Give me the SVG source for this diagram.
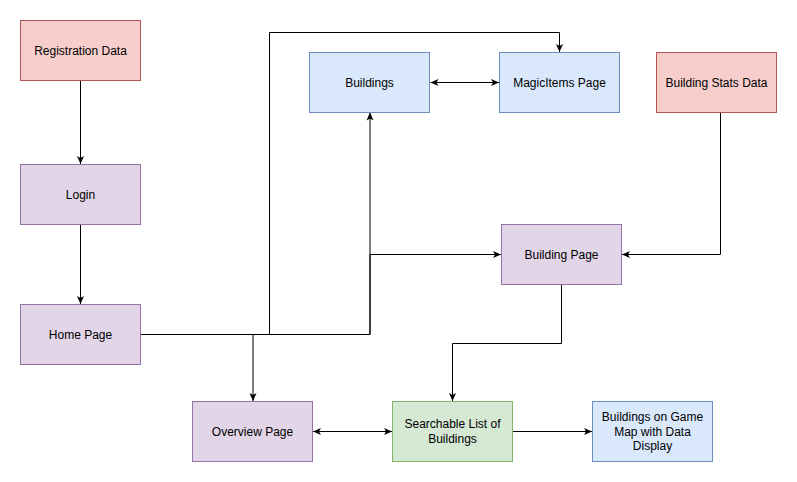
<svg xmlns="http://www.w3.org/2000/svg" width="797" height="482" viewBox="0 0 797 482">
  <style>
    .box { stroke-width: 1; }
    .red { fill: #f8cecc; stroke: #b85450; }
    .purple { fill: #e1d5e7; stroke: #9673a6; }
    .blue { fill: #dae8fc; stroke: #6c8ebf; }
    .green { fill: #d5e8d4; stroke: #82b366; }
    .label { font-family: "Liberation Sans", Arial, Helvetica, sans-serif; font-size: 12px; fill: #000000; text-anchor: middle; }
    .edge { fill: none; stroke: #000000; stroke-width: 1; }
    .end { marker-end: url(#arrow); }
    .both { marker-start: url(#arrowStart); marker-end: url(#arrow); }
  </style>
  <defs>
    <marker id="arrow" viewBox="0 0 10 10" refX="10" refY="5" markerWidth="8" markerHeight="8" markerUnits="userSpaceOnUse" orient="auto">
      <path d="M0,0.6 L10,5 L0,9.4 L2.6,5 Z" fill="#000000"/>
    </marker>
    <marker id="arrowStart" viewBox="0 0 10 10" refX="0" refY="5" markerWidth="8" markerHeight="8" markerUnits="userSpaceOnUse" orient="auto">
      <path d="M10,0.6 L0,5 L10,9.4 L7.4,5 Z" fill="#000000"/>
    </marker>
  </defs>

  <rect width="797" height="482" fill="#ffffff"/>

  <g id="connectors">
    <path class="edge end" d="M80.5,80.5 V164"/>
    <path class="edge end" d="M80.5,224.5 V304"/>
    <path class="edge end" d="M140.5,334.5 H370 V112.5"/>
    <path class="edge end" d="M140.5,334.5 H370 V254.5 H501"/>
    <path class="edge end" d="M140.5,334.5 H269.5 V32.5 H559.5 V52"/>
    <path class="edge end" d="M140.5,334.5 H253 V401"/>
    <path class="edge both" d="M430.5,82.5 H499"/>
    <path class="edge end" d="M720.5,112.5 V254.5 H622"/>
    <path class="edge end" d="M561.5,284.5 V343.5 H452.5 V401"/>
    <path class="edge both" d="M313,431.5 H392"/>
    <path class="edge end" d="M512.5,431.5 H592"/>
  </g>

  <g id="registration-data">
    <rect class="box red" x="20.5" y="20.5" width="120" height="60"/>
    <text class="label" x="80.5" y="54.5">Registration Data</text>
  </g>
  <g id="login">
    <rect class="box purple" x="20.5" y="164.5" width="120" height="60"/>
    <text class="label" x="80.5" y="198.5">Login</text>
  </g>
  <g id="home-page">
    <rect class="box purple" x="20.5" y="304.5" width="120" height="60"/>
    <text class="label" x="80.5" y="338.5">Home Page</text>
  </g>
  <g id="buildings">
    <rect class="box blue" x="309.5" y="52.5" width="120" height="60"/>
    <text class="label" x="369.5" y="86.5">Buildings</text>
  </g>
  <g id="magicitems-page">
    <rect class="box blue" x="499.5" y="52.5" width="120" height="60"/>
    <text class="label" x="559.5" y="86.5">MagicItems Page</text>
  </g>
  <g id="building-stats-data">
    <rect class="box red" x="656.5" y="52.5" width="120" height="60"/>
    <text class="label" x="716.5" y="86.5">Building Stats Data</text>
  </g>
  <g id="building-page">
    <rect class="box purple" x="501.5" y="224.5" width="120" height="60"/>
    <text class="label" x="561.5" y="258.5">Building Page</text>
  </g>
  <g id="overview-page">
    <rect class="box purple" x="192.5" y="401.5" width="120" height="60"/>
    <text class="label" x="252.5" y="435.5">Overview Page</text>
  </g>
  <g id="searchable-list">
    <rect class="box green" x="392.5" y="401.5" width="120" height="60"/>
    <text class="label" x="452.5" y="428">Searchable List of</text>
    <text class="label" x="452.5" y="442.5">Buildings</text>
  </g>
  <g id="game-map">
    <rect class="box blue" x="592.5" y="401.5" width="120" height="60"/>
    <text class="label" x="652.5" y="421">Buildings on Game</text>
    <text class="label" x="652.5" y="435.5">Map with Data</text>
    <text class="label" x="652.5" y="450">Display</text>
  </g>
</svg>
